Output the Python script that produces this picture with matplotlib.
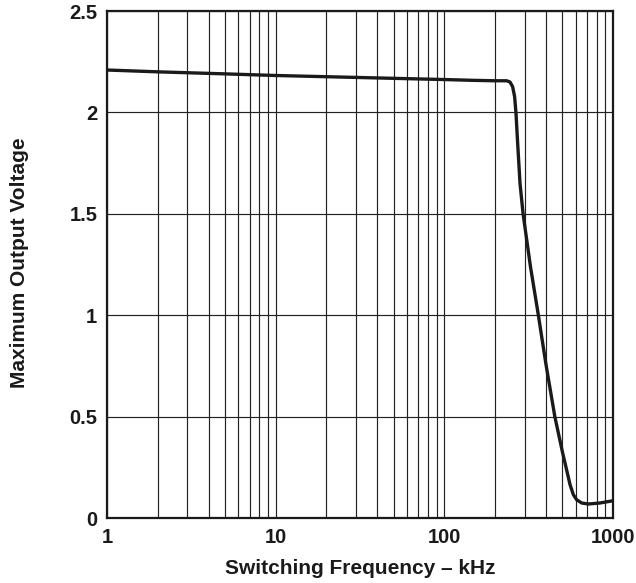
import matplotlib
matplotlib.use("Agg")
import matplotlib.pyplot as plt
import numpy as np
from matplotlib.ticker import FixedLocator, NullFormatter, FixedFormatter

freq_khz = [1, 2, 5, 10, 20, 50, 100, 150, 200, 234, 245, 254, 261, 266, 272, 281, 293,
            324, 361, 400, 452, 500, 530, 556, 582, 609, 652, 714, 836, 1000]
vout = [2.209, 2.20, 2.19, 2.182, 2.176, 2.168, 2.162, 2.158, 2.156, 2.156, 2.150, 2.127, 2.078, 1.996, 1.850, 1.650, 1.50,
        1.24, 1.00, 0.76, 0.50, 0.33, 0.24, 0.165, 0.115, 0.090, 0.074, 0.069, 0.074, 0.085]

x_ticks = [1, 10, 100, 1000]
x_tick_labels = ["1", "10", "100", "1000"]
y_ticks = [0, 0.5, 1, 1.5, 2, 2.5]
y_tick_labels = ["0", "0.5", "1", "1.5", "2", "2.5"]

plt.rcParams['font.family'] = ['Liberation Sans', 'DejaVu Sans']
plt.rcParams['font.weight'] = 'bold'

W, H = 636, 583
fig = plt.figure(figsize=(W/100, H/100), dpi=100)
ax = fig.add_axes([107/W, 1-518/H, (613-107)/W, (518-11)/H])

ax.plot(freq_khz, vout, color='#1a1a1a', lw=2.4, solid_joinstyle='round',
        solid_capstyle='butt', zorder=3)
ax.set_xscale('log')
ax.set_xlim(1, 1000)
ax.set_ylim(0, 2.5)

ax.xaxis.set_major_locator(FixedLocator(x_ticks))
ax.xaxis.set_major_formatter(FixedFormatter(x_tick_labels))
minors = [m*d for d in (1, 10, 100) for m in range(2, 10)]
ax.xaxis.set_minor_locator(FixedLocator(minors))
ax.xaxis.set_minor_formatter(NullFormatter())
ax.yaxis.set_major_locator(FixedLocator(y_ticks))
ax.yaxis.set_major_formatter(FixedFormatter(y_tick_labels))

ax.grid(True, which='both', axis='x', color='#222222', lw=0.85)
ax.grid(True, which='major', axis='y', color='#222222', lw=0.85)
ax.tick_params(which='both', length=0, labelsize=14.5, colors='#1a1a1a')
ax.tick_params(axis='x', pad=7)
ax.tick_params(axis='y', pad=7)
for lab in ax.get_xticklabels() + ax.get_yticklabels():
    lab.set_fontweight('bold')
for s in ax.spines.values():
    s.set_linewidth(1.6)
    s.set_color('#1a1a1a')

fig.text(360/W, 1-568/H, "Switching Frequency – kHz", ha='center', va='center',
         fontsize=15, fontweight='bold', color='#1a1a1a')
fig.text(20/W, 1-263/H, "Maximum Output Voltage", ha='center', va='center', rotation=90,
         fontsize=15, fontweight='bold', color='#1a1a1a')

fig.savefig("out.png", dpi=100)
